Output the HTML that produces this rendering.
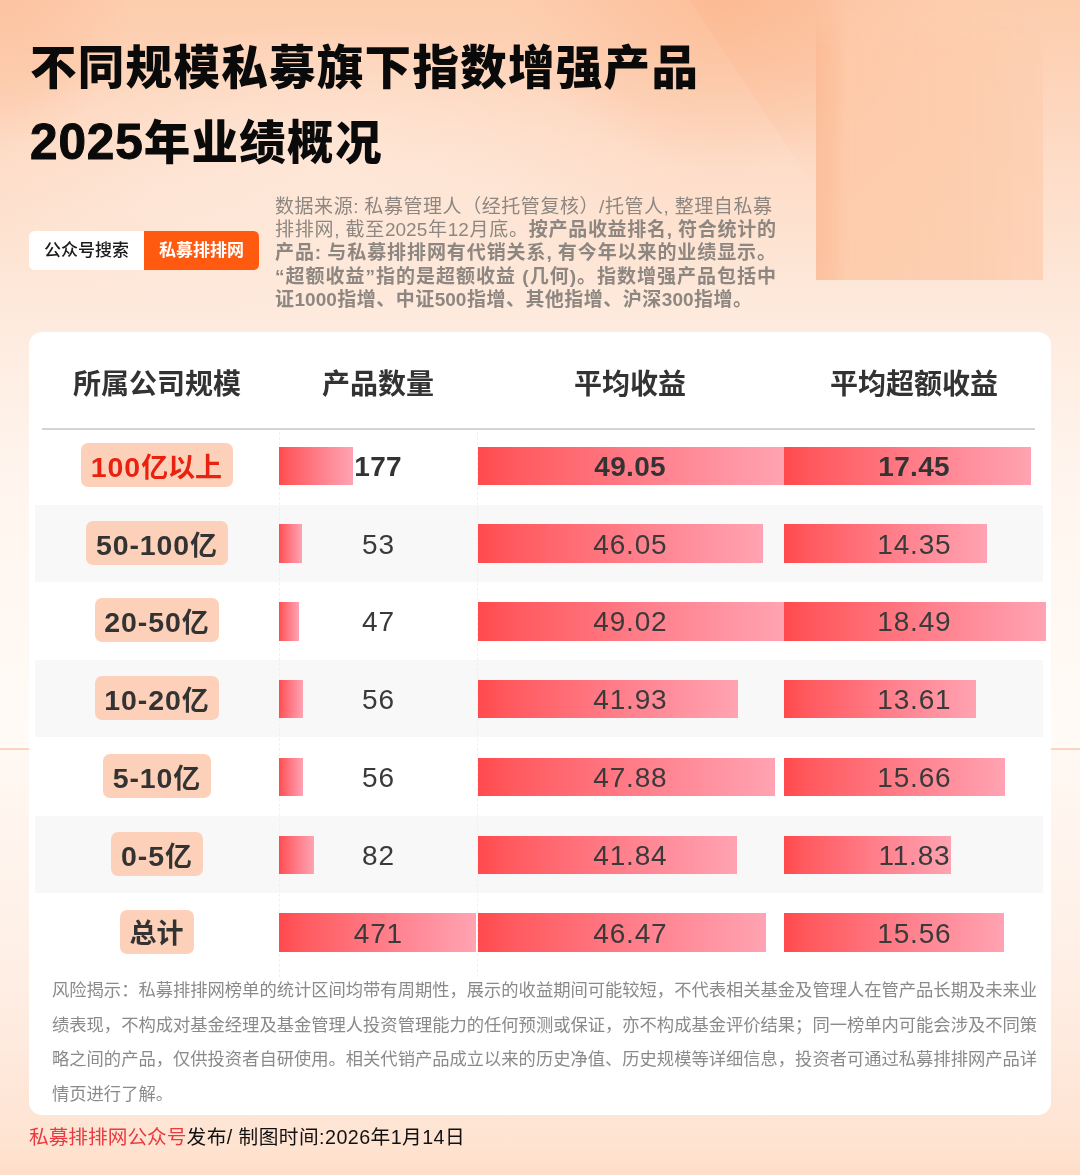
<!DOCTYPE html>
<html lang="zh-CN">
<head>
<meta charset="utf-8">
<title>不同规模私募旗下指数增强产品2025年业绩概况</title>
<style>
*{margin:0;padding:0;box-sizing:border-box}
html,body{width:1080px;height:1175px;overflow:hidden}
body{position:relative;font-family:"Liberation Sans","Noto Sans CJK SC",sans-serif;color:#333;background:#fde3d4}
.bg{position:absolute;left:0;top:0;width:1080px;height:1175px;overflow:hidden}
.bg1{position:absolute;left:0;top:0;width:1080px;height:748px;background:
 linear-gradient(to bottom,#fdcdae 0px,#fdd2b6 60px,#fdd7bf 110px,#fddeca 180px,#fde4d3 250px,#feebdf 330px,#fff5ee 480px,#fffbf7 748px)}
.bg1b{position:absolute;left:0;top:0;width:300px;height:260px;background:radial-gradient(ellipse 130px 150px at 0% 0%,rgba(252,188,150,.55) 0%,rgba(252,188,150,.3) 60%,rgba(252,188,150,0) 100%)}
.bg1c{position:absolute;left:300px;top:0;width:780px;height:260px;background:radial-gradient(ellipse 210px 170px at 425px 0,rgba(251,178,135,.55) 0%,rgba(252,183,143,.34) 50%,rgba(252,188,150,0) 100%)}
.bg1d{position:absolute;left:0;top:0;width:800px;height:340px;background:radial-gradient(ellipse 360px 150px at 330px 175px,rgba(255,240,230,.5) 0%,rgba(255,240,230,.32) 50%,rgba(255,240,230,0) 100%)}
.wedge{position:absolute;left:690px;top:0;width:126px;height:190px;clip-path:polygon(0 0,100% 0,100% 100%);background:linear-gradient(to bottom,rgba(251,176,134,.26) 0,rgba(251,180,140,.16) 60%,rgba(251,180,140,0) 100%)}
.bg2{position:absolute;left:0;top:748px;width:1080px;height:427px;background:linear-gradient(to bottom,#fff8f3 0px,#fff4ed 100px,#fef0e7 200px,#feeade 300px,#fee5d5 365px,#fee3d1 400px,#fee0cc 416px,#fdddc8 427px)}
.seam{position:absolute;left:0;top:748px;width:1080px;height:1.6px;background:#fcd5be}
.box{position:absolute;left:816px;top:0;width:227px;height:280px;background:linear-gradient(to right,rgba(251,186,148,.85) 0,rgba(252,192,156,.85) 18px,rgba(253,200,166,.85) 30px,rgba(253,203,171,.88) 60%,rgba(253,207,178,.85) 100%);-webkit-mask-image:linear-gradient(to bottom,rgba(0,0,0,.3) 0,#000 50px);mask-image:linear-gradient(to bottom,rgba(0,0,0,.3) 0,#000 50px)}
.title{position:absolute;left:30px;font-weight:900;color:#0a0a0a;font-size:46.5px;line-height:60px;letter-spacing:1.3px;white-space:nowrap}
.t1{top:38px}.t2{top:112px}.t2 i{font-style:normal;font-size:49.5px;letter-spacing:.9px;-webkit-text-stroke:1px #0a0a0a}
.pill{position:absolute;left:29px;top:230.7px;width:229.6px;height:39.8px;border-radius:5.5px;overflow:hidden;background:#fff;font-size:17px;line-height:40px;white-space:nowrap}
.pill .l{position:absolute;left:0;top:0;width:115px;height:40px;text-align:center;color:#1a1a1a;font-weight:500}
.pill .r{position:absolute;left:115px;top:0;width:115px;height:40px;text-align:center;color:#fff;background:#ff5a10;font-weight:700}
.desc{position:absolute;left:275px;top:195px;width:501px;font-size:19px;line-height:23.2px;color:#8e8781}
.desc div{height:23.2px;white-space:nowrap;text-align:justify;text-align-last:justify;white-space:pre-wrap;overflow:hidden}
.desc b{font-weight:700}
.card{position:absolute;left:29px;top:331.5px;width:1022px;height:783px;background:#fff;border-radius:13px}
.th{position:absolute;top:365px;height:40px;line-height:40px;font-size:28px;font-weight:700;color:#333;text-align:center;white-space:nowrap}
.hline{position:absolute;left:42px;top:428px;width:993px;height:2px;background:#d4d4d4}
.stripe{position:absolute;left:35px;width:1008px;height:77px;background:#f8f8f8}
.vl{position:absolute;top:432px;width:0;height:545px;border-left:1px dashed #f0f0f0}
.lab{position:absolute;height:44px;line-height:48px;border-radius:7px;background:#fdd1b9;font-size:27px;font-weight:700;color:#333;text-align:center;white-space:nowrap}
.lab.red{color:#e8220f}
.lab i{font-style:normal;font-size:28.5px;letter-spacing:.9px}
.bar{position:absolute;height:38.5px;background:linear-gradient(to right,#ff4a4e 0%,#ff5a5f 12%,#ff8390 60%,#ffa3b2 100%)}
.num{position:absolute;height:44px;line-height:44px;font-size:28px;color:#3a3a3a;text-align:center;white-space:nowrap;letter-spacing:.8px;text-indent:.8px}
.num.b{font-weight:700;color:#333;letter-spacing:.3px;text-indent:.3px}
.note{position:absolute;left:52px;top:973px;width:1000px;font-size:17.29px;line-height:34.5px;color:#8a8a8a;white-space:nowrap}
.foot{position:absolute;left:29px;top:1122px;font-size:19.7px;line-height:30px;color:#111;white-space:nowrap;letter-spacing:.44px}
.foot span{color:#e83a3f;letter-spacing:0}
</style>
</head>
<body>
<div class="bg"><div class="bg1"></div><div class="bg1b"></div><div class="bg1c"></div><div class="bg1d"></div><div class="wedge"></div><div class="bg2"></div><div class="seam"></div><div class="box"></div></div>
<div class="title t1">不同规模私募旗下指数增强产品</div>
<div class="title t2"><i>2025</i>年业绩概况</div>
<div class="pill"><div class="l">公众号搜索</div><div class="r">私募排排网</div></div>
<div class="desc"><div style="width:497px">数据来源: 私募管理人（经托管复核）/托管人, 整理自私募</div><div>排排网, 截至2025年12月底。<b>按产品收益排名, 符合统计的</b></div><div><b>产品: 与私募排排网有代销关系, 有今年以来的业绩显示。</b></div><div><b>“超额收益”指的是超额收益 (几何)。指数增强产品包括中</b></div><div style="width:477px"><b>证1000指增、中证500指增、其他指增、沪深300指增。</b></div></div>
<div class="card"></div>

<div class="stripe" style="top:504.7px"></div>
<div class="stripe" style="top:660.3px"></div>
<div class="stripe" style="top:815.9px"></div>
<div class="th" style="left:57px;width:200px">所属公司规模</div>
<div class="th" style="left:278px;width:200px">产品数量</div>
<div class="th" style="left:530px;width:200px">平均收益</div>
<div class="th" style="left:794px;width:240px">平均超额收益</div>
<div class="hline"></div>
<div class="vl" style="left:278.5px"></div>
<div class="vl" style="left:476.5px"></div>
<div class="lab red" style="left:80.5px;top:442.7px;width:152px"><i>100</i>亿以上</div>
<div class="bar" style="left:279.4px;top:446.5px;width:74.0px"></div>
<div class="bar" style="left:478px;top:446.5px;width:305.5px"></div>
<div class="bar" style="left:783.5px;top:446.5px;width:247.3px"></div>
<div class="num b" style="left:298px;top:444.7px;width:160px">177</div>
<div class="num b" style="left:550px;top:444.7px;width:160px">49.05</div>
<div class="num b" style="left:834px;top:444.7px;width:160px">17.45</div>
<div class="lab" style="left:85.5px;top:520.5px;width:142px"><i>50-100</i>亿</div>
<div class="bar" style="left:279.4px;top:524.3px;width:22.2px"></div>
<div class="bar" style="left:478px;top:524.3px;width:285.4px"></div>
<div class="bar" style="left:783.5px;top:524.3px;width:203.3px"></div>
<div class="num" style="left:298px;top:522.5px;width:160px">53</div>
<div class="num" style="left:550px;top:522.5px;width:160px">46.05</div>
<div class="num" style="left:834px;top:522.5px;width:160px">14.35</div>
<div class="lab" style="left:94.5px;top:598.3px;width:124px"><i>20-50</i>亿</div>
<div class="bar" style="left:279.4px;top:602.1px;width:19.7px"></div>
<div class="bar" style="left:478px;top:602.1px;width:305.5px"></div>
<div class="bar" style="left:783.5px;top:602.1px;width:262.0px"></div>
<div class="num" style="left:298px;top:600.3px;width:160px">47</div>
<div class="num" style="left:550px;top:600.3px;width:160px">49.02</div>
<div class="num" style="left:834px;top:600.3px;width:160px">18.49</div>
<div class="lab" style="left:94.5px;top:676.1px;width:124px"><i>10-20</i>亿</div>
<div class="bar" style="left:279.4px;top:679.9px;width:23.4px"></div>
<div class="bar" style="left:478px;top:679.9px;width:259.9px"></div>
<div class="bar" style="left:783.5px;top:679.9px;width:192.9px"></div>
<div class="num" style="left:298px;top:678.1px;width:160px">56</div>
<div class="num" style="left:550px;top:678.1px;width:160px">41.93</div>
<div class="num" style="left:834px;top:678.1px;width:160px">13.61</div>
<div class="lab" style="left:102.5px;top:753.9px;width:108px"><i>5-10</i>亿</div>
<div class="bar" style="left:279.4px;top:757.7px;width:23.4px"></div>
<div class="bar" style="left:478px;top:757.7px;width:296.7px"></div>
<div class="bar" style="left:783.5px;top:757.7px;width:221.9px"></div>
<div class="num" style="left:298px;top:755.9px;width:160px">56</div>
<div class="num" style="left:550px;top:755.9px;width:160px">47.88</div>
<div class="num" style="left:834px;top:755.9px;width:160px">15.66</div>
<div class="lab" style="left:110.5px;top:831.7px;width:92px"><i>0-5</i>亿</div>
<div class="bar" style="left:279.4px;top:835.5px;width:34.3px"></div>
<div class="bar" style="left:478px;top:835.5px;width:259.3px"></div>
<div class="bar" style="left:783.5px;top:835.5px;width:167.6px"></div>
<div class="num" style="left:298px;top:833.7px;width:160px">82</div>
<div class="num" style="left:550px;top:833.7px;width:160px">41.84</div>
<div class="num" style="left:834px;top:833.7px;width:160px">11.83</div>
<div class="lab" style="left:119.5px;top:909.5px;width:74px">总计</div>
<div class="bar" style="left:279.4px;top:913.3px;width:197.0px"></div>
<div class="bar" style="left:478px;top:913.3px;width:288.0px"></div>
<div class="bar" style="left:783.5px;top:913.3px;width:220.5px"></div>
<div class="num" style="left:298px;top:911.5px;width:160px">471</div>
<div class="num" style="left:550px;top:911.5px;width:160px">46.47</div>
<div class="num" style="left:834px;top:911.5px;width:160px">15.56</div>
<div class="note">风险揭示：私募排排网榜单的统计区间均带有周期性，展示的收益期间可能较短，不代表相关基金及管理人在管产品长期及未来业<br>绩表现，不构成对基金经理及基金管理人投资管理能力的任何预测或保证，亦不构成基金评价结果；同一榜单内可能会涉及不同策<br>略之间的产品，仅供投资者自研使用。相关代销产品成立以来的历史净值、历史规模等详细信息，投资者可通过私募排排网产品详<br>情页进行了解。</div>
<div class="foot"><span>私募排排网公众号</span>发布/ 制图时间:2026年1月14日</div>
</body>
</html>
